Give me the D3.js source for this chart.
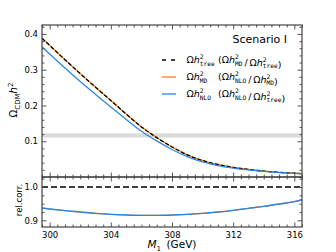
<!DOCTYPE html>
<html><head><meta charset="utf-8">
<script src="https://cdn.jsdelivr.net/npm/d3@7"></script>
<style>body{margin:0;background:#fff} text{font-family:"DejaVu Sans";}</style>
</head><body><svg id="c" width="336" height="252" xmlns="http://www.w3.org/2000/svg"></svg>
<script>
// ---- data ----
const masses       = [299.5,300,301,302,303,304,305,306,307,308,309,310,311,312,313,314,315,316,316.5];
const omegaTree    = [0.388,0.368,0.328,0.289,0.251,0.214,0.176,0.140,0.110,0.084,0.062,0.046,0.035,0.027,0.021,0.0165,0.013,0.0105,0.0095];
const omegaMD      = [0.388,0.368,0.328,0.289,0.251,0.214,0.176,0.1405,0.1105,0.0845,0.062,0.046,0.035,0.027,0.021,0.0165,0.013,0.0105,0.0095];
const omegaNLO     = [0.364,0.344,0.305,0.267,0.231,0.196,0.161,0.128,0.101,0.077,0.057,0.042,0.032,0.025,0.0197,0.0155,0.0123,0.0100,0.0091];
const ratioMDtree  = [1,1,1,1,1,1,1,1,1,1,1,1,1,1,1,1,1,1,1];
const ratioNLOMD   = [0.937,0.934,0.929,0.925,0.921,0.918,0.916,0.915,0.915,0.916,0.918,0.921,0.925,0.930,0.936,0.942,0.949,0.956,0.962];
const ratioNLOtree = [0.937,0.934,0.929,0.925,0.921,0.918,0.916,0.915,0.915,0.916,0.918,0.921,0.925,0.930,0.936,0.942,0.949,0.956,0.962];
const xTicks       = [300,304,308,312,316];
const yTicksMain   = [0.1,0.2,0.3,0.4];
const yTicksRatio  = [0.9,1.0];
const planckBand   = [0.1105,0.1220];

// ---- layout ----
const svg = d3.select('#c');
const L=42,R=302,T=25,MB=177,B=227;
const frameColor = '#444';
const x  = d3.scaleLinear().domain([299.5,316.5]).range([L,R]);
const yM = d3.scaleLinear().domain([0,0.425]).range([MB,T]);
const yR = d3.scaleLinear().domain([0.88,1.03]).range([B,MB]);

const defs = svg.append('defs');
defs.append('clipPath').attr('id','cm').append('rect').attr('x',L).attr('y',T).attr('width',R-L).attr('height',MB-T);
defs.append('clipPath').attr('id','cr').append('rect').attr('x',L).attr('y',MB).attr('width',R-L).attr('height',B-MB);

// band
svg.append('rect').attr('x',L).attr('width',R-L)
  .attr('y',yM(planckBand[1])).attr('height',yM(planckBand[0])-yM(planckBand[1]))
  .attr('fill','#dadada');

function path(g, vals, yScale, color, width, dash){
  const ln = d3.line().x(d=>x(d[0])).y(d=>yScale(d[1])).curve(d3.curveMonotoneX);
  const p = g.append('path').attr('d', ln(d3.zip(masses, vals)))
    .attr('fill','none').attr('stroke',color).attr('stroke-width',width);
  if (dash) p.attr('stroke-dasharray',dash);
}
const orange='#ff8000', blue='#2b86e3';
const gm = svg.append('g').attr('clip-path','url(#cm)');
path(gm, omegaMD, yM, orange, 1.3);
path(gm, omegaTree, yM, '#000', 1.3, '4,2');
path(gm, omegaNLO, yM, blue, 1.3);
const gr = svg.append('g').attr('clip-path','url(#cr)');
path(gr, ratioNLOMD, yR, orange, 1.2);
path(gr, ratioNLOtree, yR, blue, 1.4);
path(gr, ratioMDtree, yR, '#000', 1.3, '6,3');

// ---- axes ----
function minorVals(lo, hi, step, majors){
  return d3.range(Math.round(lo/step), Math.round(hi/step)+1).map(k=>+(k*step).toFixed(4))
    .filter(v=>v>=lo-1e-9 && v<=hi+1e-9 && !majors.some(m=>Math.abs(m-v)<1e-6));
}
function styleAxis(g){
  g.select('.domain').remove();
  g.selectAll('.tick line').attr('stroke',frameColor).attr('stroke-width',0.9);
  g.selectAll('.tick text').attr('fill','#000').attr('font-size',8.5).attr('font-family','DejaVu Sans');
}
function panelAxes(yScale, top, bottom, yMaj, yMinStep, xLabels, yFmt){
  const xMin = minorVals(299.5,316.5,0.5,xTicks);
  const yd = yScale.domain();
  const yMin = minorVals(yd[0],yd[1],yMinStep,yMaj);
  const mk = [
    [d3.axisBottom(x).tickValues(xTicks).tickSize(-4.5).tickPadding(4.5).tickFormat(xLabels?d3.format('d'):()=>''), `translate(0,${bottom})`],
    [d3.axisBottom(x).tickValues(xMin).tickSize(-2.5).tickFormat(()=>''), `translate(0,${bottom})`],
    [d3.axisTop(x).tickValues(xTicks).tickSize(-4.5).tickFormat(()=>''), `translate(0,${top})`],
    [d3.axisTop(x).tickValues(xMin).tickSize(-2.5).tickFormat(()=>''), `translate(0,${top})`],
    [d3.axisLeft(yScale).tickValues(yMaj).tickSize(-4.5).tickPadding(4).tickFormat(yFmt), `translate(${L},0)`],
    [d3.axisLeft(yScale).tickValues(yMin).tickSize(-2.5).tickFormat(()=>''), `translate(${L},0)`],
    [d3.axisRight(yScale).tickValues(yMaj).tickSize(-4.5).tickFormat(()=>''), `translate(${R},0)`],
    [d3.axisRight(yScale).tickValues(yMin).tickSize(-2.5).tickFormat(()=>''), `translate(${R},0)`]
  ];
  mk.forEach(([ax,tr])=>{ const g=svg.append('g').attr('transform',tr).call(ax); styleAxis(g); });
  svg.append('rect').attr('x',L).attr('y',top).attr('width',R-L).attr('height',bottom-top)
    .attr('fill','none').attr('stroke',frameColor).attr('stroke-width',1.2);
}
panelAxes(yM, T, MB, yTicksMain, 0.02, false, d3.format('.1f'));
panelAxes(yR, MB, B, yTicksRatio, 0.025, true, d3.format('.1f'));

// ---- labels ----
const yl = svg.append('text').attr('transform','translate(17,100) rotate(-90)')
  .attr('text-anchor','middle').attr('font-size',10);
yl.append('tspan').text('Ω');
yl.append('tspan').attr('font-size',7).attr('dy',2.5).text('CDM');
yl.append('tspan').attr('font-style','italic').attr('dy',-2.5).text('h');
yl.append('tspan').attr('font-size',7).attr('dy',-4).text('2');

svg.append('text').attr('transform','translate(22,200) rotate(-90)')
  .attr('text-anchor','middle').attr('font-size',8.5).text('rel.corr.');

const xl = svg.append('text').attr('x',172).attr('y',248).attr('text-anchor','middle').attr('font-size',10.5);
xl.append('tspan').attr('font-style','italic').text('M');
xl.append('tspan').attr('font-size',7).attr('dy',2.5).text('1');
xl.append('tspan').attr('dy',-2.5).text('\u2009 (GeV)');

svg.append('text').attr('x',287).attr('y',43).attr('text-anchor','end').attr('font-size',11).text('Scenario I');

// ---- legend ----
function omegaTerm(t, sub){
  t.append('tspan').text('Ω');
  t.append('tspan').attr('font-style','italic').text('h');
  t.append('tspan').attr('font-size',6.2).attr('dy',-3.8).text('2');
  t.append('tspan').attr('font-size',6.2).attr('font-family','DejaVu Sans Mono').attr('dx',-3.9).attr('dy',6.3).text(sub);
  t.append('tspan').attr('font-size',9.5).attr('dy',-2.5).text('');
}
const legendRows = [
  {color:'#000', dash:'4,5', main:'tree', num:'MD', den:'tree'},
  {color:orange, dash:null, main:'MD', num:'NLO', den:'MD'},
  {color:blue, dash:null, main:'NLO', num:'NLO', den:'tree'}
];
legendRows.forEach((r,i)=>{
  const yy = 60 + i*17;
  const ln = svg.append('line').attr('x1',162).attr('x2',176).attr('y1',yy).attr('y2',yy)
    .attr('stroke',r.color).attr('stroke-width',1.3);
  if (r.dash) ln.attr('stroke-dasharray',r.dash);
  const t1 = svg.append('text').attr('x',186.5).attr('y',yy+3).attr('font-size',9.5);
  omegaTerm(t1, r.main);
  const t2 = svg.append('text').attr('x',218).attr('y',yy+3).attr('font-size',9.5);
  t2.append('tspan').text('(');
  omegaTerm(t2, r.num);
  t2.append('tspan').text('\u2009/\u2009');
  omegaTerm(t2, r.den);
  t2.append('tspan').text(')');
});
</script></body></html>
